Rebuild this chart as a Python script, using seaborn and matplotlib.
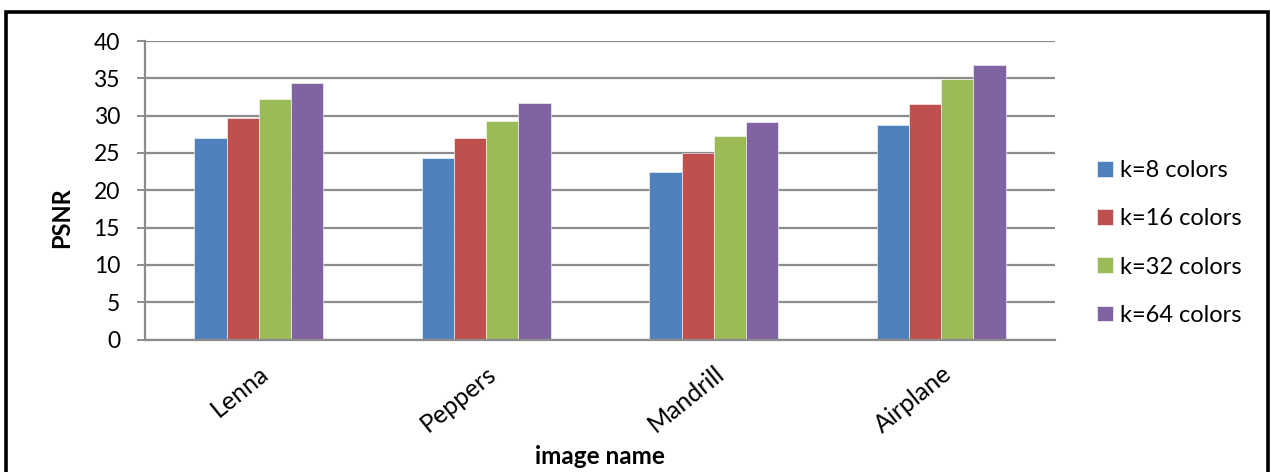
import matplotlib
matplotlib.use("Agg")
import matplotlib.pyplot as plt
from matplotlib.patches import Rectangle
import seaborn as sns
import pandas as pd

# PSNR results for colour quantisation with k-means
images = ["Lenna", "Peppers", "Mandrill", "Airplane"]
series = ["k=8 colors", "k=16 colors", "k=32 colors", "k=64 colors"]
psnr_k8 = [27.0, 24.3, 22.4, 28.7]
psnr_k16 = [29.7, 27.0, 25.0, 31.6]
psnr_k32 = [32.2, 29.3, 27.3, 34.9]
psnr_k64 = [34.4, 31.7, 29.2, 36.8]
y_ticks = [0, 5, 10, 15, 20, 25, 30, 35, 40]

colors = ["#4F81BD", "#C0504D", "#9BBB59", "#8064A2"]

rows = []
for name, vals in zip(series, [psnr_k8, psnr_k16, psnr_k32, psnr_k64]):
    for img, v in zip(images, vals):
        rows.append({"image": img, "k": name, "psnr": v})
df = pd.DataFrame(rows)

sns.set_theme(style="white")
plt.rcParams["font.family"] = ["Lato", "DejaVu Sans"]

W, H = 1271, 472
fig = plt.figure(figsize=(W / 100, H / 100), dpi=100)
ax = fig.add_axes([145 / W, 1 - 339.5 / H, (1055 - 145) / W, (339.5 - 41) / H])

sns.barplot(data=df, x="image", y="psnr", hue="k", order=images, hue_order=series,
            palette=colors, width=0.567, gap=0, ax=ax, errorbar=None,
            edgecolor="white", linewidth=0.4, saturation=1)

grid_c = "#8C8C8C"
ax.set_ylim(0, 40)
ax.set_xlim(-0.5, 3.5)
ax.set_yticks(y_ticks)
ax.yaxis.grid(True, color=grid_c, linewidth=1.6)
ax.set_axisbelow(True)
for s in ["top", "right"]:
    ax.spines[s].set_visible(False)
for s in ["left", "bottom"]:
    ax.spines[s].set_color(grid_c)
    ax.spines[s].set_linewidth(1.6)

ax.tick_params(axis="y", which="major", direction="out", length=6, width=1.4,
               color=grid_c, labelsize=16.5, pad=12, left=True)
ax.tick_params(axis="x", length=0, labelsize=18, pad=16)
for lbl in ax.get_yticklabels():
    lbl.set_color("black")
for lbl in ax.get_xticklabels():
    lbl.set_rotation(39)
    lbl.set_ha("right")
    lbl.set_va("top")
    lbl.set_rotation_mode("anchor")
    lbl.set_color("black")

ax.set_xlabel("image name", fontsize=17.5, fontweight="bold", color="black")
ax.set_ylabel("PSNR", fontsize=17, fontweight="bold", color="black")
ax.xaxis.set_label_coords(0.5, -(456 - 339.5) / (339.5 - 41))
ax.yaxis.set_label_coords(-(145 - 62) / (1055 - 145), (339.5 - 218) / (339.5 - 41))
ax.xaxis.label.set_va("center")
ax.yaxis.label.set_va("center")

leg = ax.legend(loc="center left", bbox_to_anchor=(1088 / W, 1 - 243 / H),
                bbox_transform=fig.transFigure, frameon=False, fontsize=17,
                handlelength=0.64, handleheight=0.64, handletextpad=0.3,
                labelspacing=1.15, borderaxespad=0, title=None)
for t in leg.get_texts():
    t.set_color("black")

# outer chart frame
fig.patches.append(Rectangle((5.5 / W, -0.05), (1267.5 - 5.5) / W, 1.05 - 11.5 / H,
                             transform=fig.transFigure, fill=False,
                             edgecolor="black", linewidth=2.6, zorder=10))

fig.savefig("out.png", dpi=100, facecolor="white")
